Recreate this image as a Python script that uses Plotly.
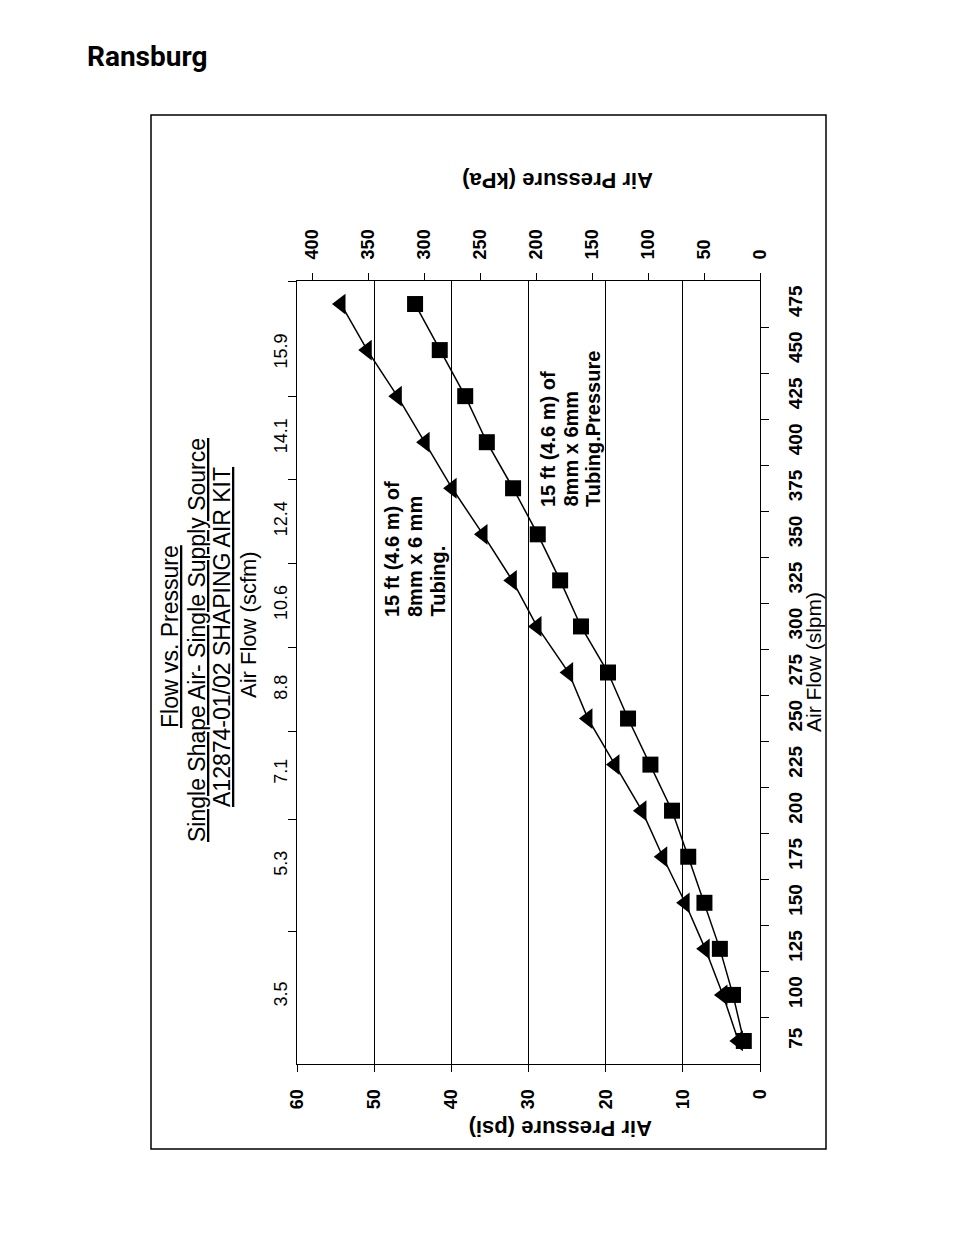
import plotly.graph_objects as go

# ---- data ----
flow_slpm = [75, 100, 125, 150, 175, 200, 225, 250, 275, 300, 325, 350, 375, 400, 425, 450, 475]
psi_8x6_pressure = [2.1, 3.5, 5.2, 7.2, 9.3, 11.4, 14.2, 17.1, 19.7, 23.2, 25.9, 28.8, 32.0, 35.4, 38.2, 41.5, 44.7]
psi_8x6_tubing = [2.8, 4.8, 7.1, 9.7, 12.6, 15.3, 18.8, 22.3, 24.8, 28.9, 32.1, 35.9, 39.9, 43.4, 47.0, 50.9, 54.3]

psi_ticks = [0, 10, 20, 30, 40, 50, 60]
kpa_ticks = [0, 50, 100, 150, 200, 250, 300, 350, 400]
slpm_ticks = [75, 100, 125, 150, 175, 200, 225, 250, 275, 300, 325, 350, 375, 400, 425, 450, 475]
scfm_labels = ["3.5", "5.3", "7.1", "8.8", "10.6", "12.4", "14.1", "15.9"]
scfm_label_pos = [99, 170, 220, 265.5, 311.5, 357, 402, 448]   # in slpm units (axis positions)

label_tubing = ["15 ft (4.6 m) of", "8mm x 6 mm", "Tubing."]
label_pressure = ["15 ft (4.6 m) of", "8mm x 6mm", "Tubing.Pressure"]

PSI_TO_KPA = 6.89476
PSI_MAX = 60
FLOW_RANGE = [62.5, 487.5]

# ---- layout geometry (pixels, page coords; page body has 8px margin) ----
OFF = 8
W, H = 954 - OFF, 1235 - OFF
PL, PR, PT, PB = 297, 760, 281, 1064


def px(x):
    return (x - PL) / (PR - PL)


def py(y):
    return (PB - y) / (PB - PT)


FONT = "Liberation Sans, Arial, sans-serif"
NARROW = "Liberation Sans Narrow, Liberation Sans, Arial"

fig = go.Figure()

fig.add_trace(go.Scatter(
    x=psi_8x6_pressure, y=flow_slpm, mode="lines+markers",
    line=dict(color="black", width=1.5),
    marker=dict(symbol="square", size=16, color="black"),
    showlegend=False, cliponaxis=False,
))
fig.add_trace(go.Scatter(
    x=psi_8x6_tubing, y=flow_slpm, mode="lines+markers",
    line=dict(color="black", width=1.5),
    marker=dict(symbol="triangle-left", size=18, color="black"),
    showlegend=False, cliponaxis=False,
))
# dummy trace to activate secondary axes
fig.add_trace(go.Scatter(x=[None], y=[None], xaxis="x2", yaxis="y2", showlegend=False))

minor_slpm = [v + 12.5 for v in slpm_ticks[:-1]]
minor_scfm = [(a + b) / 2 for a, b in zip(scfm_label_pos[:-1], scfm_label_pos[1:])] + [FLOW_RANGE[1] - 0.1]

fig.update_layout(
    width=W, height=H,
    margin=dict(l=PL - OFF, r=954 - PR, t=PT - OFF, b=1235 - PB),
    paper_bgcolor="white", plot_bgcolor="white",
    font=dict(family=FONT, color="black"),
    xaxis=dict(
        range=[PSI_MAX, 0], tickvals=psi_ticks, tickangle=-90,
        ticks="outside", ticklen=7, tickcolor="black",
        showline=True, linecolor="black", linewidth=1,
        showgrid=True, gridcolor="black", gridwidth=1, zeroline=False,
        tickfont=dict(size=18, family=FONT, weight="bold"),
        ticklabelstandoff=10,
    ),
    xaxis2=dict(
        overlaying="x", side="top", anchor="y",
        range=[PSI_MAX * PSI_TO_KPA, 0], tickvals=kpa_ticks, tickangle=-90,
        ticks="outside", ticklen=7, tickcolor="black",
        showline=True, linecolor="black", linewidth=1,
        showgrid=False, zeroline=False,
        tickfont=dict(size=18, family=FONT, weight="bold"),
        ticklabelstandoff=10,
    ),
    yaxis=dict(
        range=FLOW_RANGE, side="right", tickvals=slpm_ticks, tickangle=-90,
        ticks="", showline=True, linecolor="black", linewidth=1,
        showgrid=False, zeroline=False,
        minor=dict(tickvals=minor_slpm, ticks="outside", ticklen=8, tickcolor="black", showgrid=False),
        tickfont=dict(size=19, family=FONT, weight="bold"),
        ticklabelstandoff=18,
    ),
    yaxis2=dict(
        overlaying="y", side="left", anchor="x",
        range=FLOW_RANGE, tickvals=scfm_label_pos, ticktext=scfm_labels, tickangle=-90,
        ticks="", showline=True, linecolor="black", linewidth=1,
        showgrid=False, zeroline=False,
        minor=dict(tickvals=minor_scfm, ticks="outside", ticklen=8, tickcolor="black", showgrid=False),
        tickfont=dict(size=18, family=NARROW),
        ticklabelstandoff=2,
    ),
)

annotations = [
    # logo
    dict(text="<b>Ransburg</b>", x=px(85), y=py(57), xanchor="left",
         font=dict(size=28, family="Roboto, Liberation Sans")),
    # titles
    dict(text="<u>Flow vs. Pressure</u>", x=px(170), y=py(637), textangle=-90, font=dict(size=23)),
    dict(text="<u>Single Shape Air- Single Supply Source</u>", x=px(197), y=py(640), textangle=-90, font=dict(size=23)),
    dict(text="<u>A12874-01/02 SHAPING AIR KIT</u>", x=px(222), y=py(637), textangle=-90, font=dict(size=23)),
    dict(text="Air Flow (scfm)", x=px(248), y=py(625), textangle=-90, font=dict(size=22)),
    # axis titles
    dict(text="<b>Air Pressure (psi)</b>", x=px(561), y=py(1129), textangle=180, font=dict(size=22)),
    dict(text="<b>Air Pressure (kPa)</b>", x=px(558), y=py(180), textangle=180, font=dict(size=22)),
    dict(text="Air Flow (slpm)", x=px(813), y=py(662), textangle=-90, font=dict(size=21)),
]
# series labels, one line each, bottom-aligned (rotated text)
for i, line in enumerate(label_tubing):
    annotations.append(dict(text="<b>%s</b>" % line, x=px(392 + 22.5 * i), y=py(619),
                            yanchor="bottom", textangle=-90, font=dict(size=20)))
for i, line in enumerate(label_pressure):
    annotations.append(dict(text="<b>%s</b>" % line, x=px(548 + 22.5 * i), y=py(509),
                            yanchor="bottom", textangle=-90, font=dict(size=20)))

for a in annotations:
    a.setdefault("xref", "paper")
    a.setdefault("yref", "paper")
    a.setdefault("showarrow", False)
    a.setdefault("xanchor", "center")
    a.setdefault("yanchor", "middle")
fig.update_layout(annotations=annotations)

# outer frame
fig.add_shape(type="rect", xref="paper", yref="paper",
              x0=px(151), x1=px(826), y0=py(1149), y1=py(115),
              line=dict(color="black", width=1.5), fillcolor="rgba(0,0,0,0)")

fig.write_html("out.html")
